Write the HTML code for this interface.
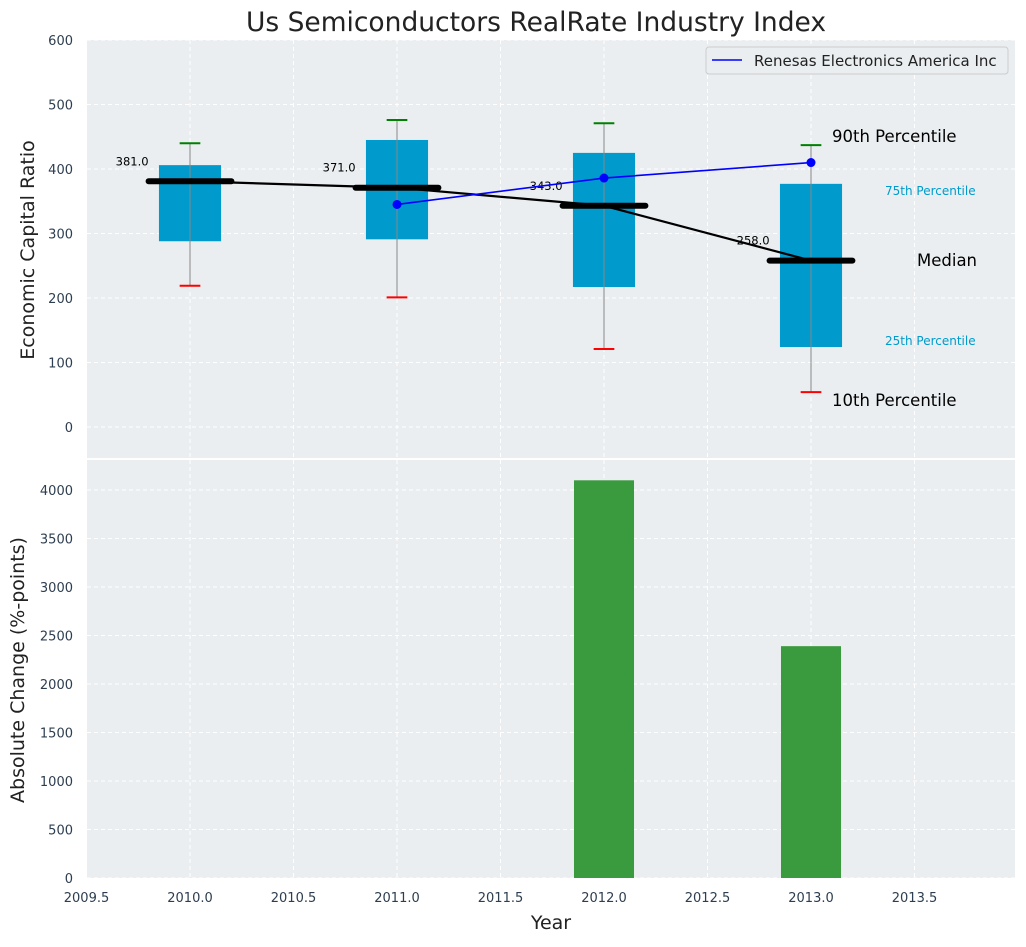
<!DOCTYPE html>
<html><head><meta charset="utf-8"><style>
body{margin:0;background:#fff;}
svg text{font-family:"DejaVu Sans","Liberation Sans",sans-serif;}
</style></head><body>
<svg id="chart" width="1026" height="942" xmlns="http://www.w3.org/2000/svg">
<text x="536" y="31" text-anchor="middle" font-size="26.5" fill="#222">Us Semiconductors RealRate Industry Index</text>
<g id="topg"></g><g id="botg"></g>
</svg>
<script>
const years=[2010,2011,2012,2013];
const p10=[219,201,121,54];
const q1=[288,291,217,124];
const med=[381,371,343,258];
const q3=[406,445,425,377];
const p90=[440,476,471,437];
const compYears=[2011,2012,2013];
const compVals=[345,386,410];
const barYears=[2012,2013];
const barVals=[4100,2390];
const xTicks=[2009.5,2010,2010.5,2011,2011.5,2012,2012.5,2013,2013.5];
const yTicksTop=[0,100,200,300,400,500,600];
const yTicksBot=[0,500,1000,1500,2000,2500,3000,3500,4000];

const NS="http://www.w3.org/2000/svg";
const L=87,R=1015;
const X=v=>86.5+(v-2009.5)*207;
const Yt=v=>427-v*0.645;
const Yb=v=>878-v*0.097;
function el(p,t,a,txt){const e=document.createElementNS(NS,t);for(const k in a)e.setAttribute(k,a[k]);if(txt!==undefined)e.textContent=txt;p.appendChild(e);return e;}
const gTop=document.getElementById('topg'),gBot=document.getElementById('botg');

let bg=el(gTop,'rect',{x:L,y:40,width:R-L,height:418,fill:'#eaeef0'});


let bg2=el(gBot,'rect',{x:L,y:460,width:R-L,height:418,fill:'#eaeef0'});



xTicks.forEach(t=>{
 el(gTop,'line',{x1:X(t),x2:X(t),y1:40,y2:458,stroke:'#fff','stroke-dasharray':'4,3','stroke-width':1});
 el(gBot,'line',{x1:X(t),x2:X(t),y1:460,y2:878,stroke:'#fff','stroke-dasharray':'4,3','stroke-width':1});
 const tl=el(gBot,'text',{x:X(t),y:902,'text-anchor':'middle','font-size':13,fill:'#2d3e50'},t.toFixed(1));
 
 
});
yTicksTop.forEach(t=>{
 el(gTop,'line',{x1:L,x2:R,y1:Yt(t),y2:Yt(t),stroke:'#fff','stroke-dasharray':'4,3'});
 const tl=el(gTop,'text',{x:73,y:Yt(t)+5,'text-anchor':'end','font-size':13,fill:'#2d3e50'},t);
 
 
});
yTicksBot.forEach(t=>{
 el(gBot,'line',{x1:L,x2:R,y1:Yb(t),y2:Yb(t),stroke:'#fff','stroke-dasharray':'4,3'});
 const tl=el(gBot,'text',{x:73,y:Yb(t)+5,'text-anchor':'end','font-size':13,fill:'#2d3e50'},t);
 
 
});
el(gTop,'line',{x1:L,x2:R,y1:459,y2:459,stroke:'#fff','stroke-width':2});

years.forEach((y,i)=>{
 const g=el(gTop,'g',{});
 
 
 el(g,'rect',{x:X(y-0.15),y:Yt(q3[i]),width:X(y+0.15)-X(y-0.15),height:Yt(q1[i])-Yt(q3[i]),fill:'#009bcc'});
 el(g,'line',{x1:X(y),x2:X(y),y1:Yt(p90[i]),y2:Yt(p10[i]),stroke:'#888','stroke-width':1});
 el(g,'line',{x1:X(y-0.05),x2:X(y+0.05),y1:Yt(p90[i]),y2:Yt(p90[i]),stroke:'green','stroke-width':2});
 el(g,'line',{x1:X(y-0.05),x2:X(y+0.05),y1:Yt(p10[i]),y2:Yt(p10[i]),stroke:'red','stroke-width':2});
 el(g,'line',{x1:X(y-0.2),x2:X(y+0.2),y1:Yt(med[i]),y2:Yt(med[i]),stroke:'#000','stroke-width':6,'stroke-linecap':'round'});
 const lb=el(gTop,'text',{x:X(y-0.2),y:Yt(med[i])-16,'text-anchor':'end','font-size':11.5,fill:'#000'},med[i].toFixed(1));
 
 
});
let mp=years.map((y,i)=>X(y)+','+Yt(med[i])).join(' ');
let ml=el(gTop,'polyline',{points:mp,fill:'none',stroke:'#000','stroke-width':2.2});


let cp=compYears.map((y,i)=>X(y)+','+Yt(compVals[i])).join(' ');
let cl=el(gTop,'polyline',{points:cp,fill:'none',stroke:'blue','stroke-width':1.6});


compYears.forEach((y,i)=>{
 const c=el(gTop,'circle',{cx:X(y),cy:Yt(compVals[i]),r:4.5,fill:'blue'});
 
 
});
[['90th Percentile',832,142,16.5,'#000'],['75th Percentile',885,195,12,'#009bcc'],['Median',917,266,16.5,'#000'],['25th Percentile',885,345,12,'#009bcc'],['10th Percentile',832,406,16.5,'#000']].forEach(a=>{
 const t=el(gTop,'text',{x:a[1],y:a[2],'font-size':a[3],fill:a[4]},a[0]);
 
 
});
const lg=el(gTop,'g',{});


el(lg,'rect',{x:706,y:47,width:302,height:27,rx:3,fill:'#eaeef0',stroke:'#ccc'});
el(lg,'line',{x1:712,x2:742,y1:60,y2:60,stroke:'blue','stroke-width':1.6});
el(lg,'text',{x:754,y:66,'font-size':15,fill:'#222'},'Renesas Electronics America Inc');
barYears.forEach((y,i)=>{
 const b=el(gBot,'rect',{x:X(y-0.145),y:Yb(barVals[i]),width:X(y+0.145)-X(y-0.145),height:878-Yb(barVals[i]),fill:'#3a9a3e'});
 
 
});
let t1=el(gTop,'text',{x:34,y:250,'text-anchor':'middle','font-size':19,fill:'#222',transform:'rotate(-90 34 250)'},'Economic Capital Ratio');


let t2=el(gBot,'text',{x:24,y:670,'text-anchor':'middle','font-size':19,fill:'#222',transform:'rotate(-90 24 670)'},'Absolute Change (%-points)');


let t3=el(gBot,'text',{x:551,y:929,'text-anchor':'middle','font-size':19,fill:'#222'},'Year');


</script>
</body></html>
